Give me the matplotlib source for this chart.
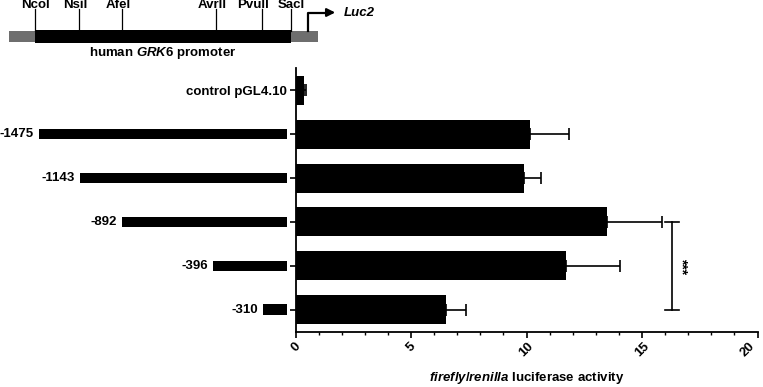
import matplotlib
matplotlib.use('Agg')
import matplotlib.pyplot as plt

# data
constructs = ['control pGL4.10', '-1475', '-1143', '-892', '-396', '-310']
activity = [0.38, 10.14, 9.88, 13.5, 11.71, 6.5]
sem = [0.07, 1.71, 0.76, 2.35, 2.33, 0.89]

# promoter schematic (arbitrary schematic units)
site_names = ['Ncol', 'Nsil', 'Afel', 'Avrll', 'Pvull', 'Sacl']
site_pos = [35, 79, 122, 216, 262, 291]
site_label_pos = [35, 75, 118, 212, 253, 291]
frag_labels = ['-1475', '-1143', '-892', '-396', '-310']
frag_start = [39, 80, 122, 213, 263]
frag_end = 287

FS = 9.5
plt.rcParams['font.family'] = ['Liberation Sans', 'DejaVu Sans']
plt.rcParams['font.weight'] = 'bold'
plt.rcParams['mathtext.fontset'] = 'custom'
plt.rcParams['mathtext.it'] = 'Liberation Sans:italic:bold'
plt.rcParams['mathtext.rm'] = 'Liberation Sans:bold'
plt.rcParams['mathtext.bf'] = 'Liberation Sans:bold'

W, H = 763, 387
fig = plt.figure(figsize=(W / 100, H / 100), dpi=100)

left, right, bottom, top = 295.5, 757.5, 331.7, 68.3
ax = fig.add_axes([left / W, 1 - bottom / H, (right - left) / W, (bottom - top) / H])

rows = list(range(len(constructs)))
ax.barh(rows, activity, height=0.66, color='black',
        xerr=[[0] * len(sem), sem], capsize=4.5,
        error_kw=dict(ecolor='black', elinewidth=1.2, capthick=1.2))
ax.set_ylim(5.5, -0.5)
ax.set_xlim(0, 20)
ax.set_xticks([0, 5, 10, 15, 20])
ax.set_xticks(range(21), minor=True)
xlabels = ax.set_xticklabels(['0', '5', '10', '15', '20'], rotation=45, ha='center', fontsize=FS, fontweight='bold')
# keep the last label inside the canvas
xlabels[-1].set_ha('right')
ax.set_yticks(rows)
ax.set_yticklabels([constructs[0]] + [''] * 5, fontsize=FS, fontweight='bold')
ax.tick_params(axis='both', which='major', length=4, width=1.2, pad=2)
ax.tick_params(axis='x', which='minor', length=2.5, width=1.0)
for s in ['top', 'right']:
    ax.spines[s].set_visible(False)
for s in ['left', 'bottom']:
    ax.spines[s].set_linewidth(1.3)
ax.set_xlabel(r'$\mathit{firefly/renilla}$ luciferase activity', fontsize=FS, fontweight='bold', labelpad=8)

# significance bracket between -892 and -310
bx = 16.3
ax.plot([bx, bx], [3, 5], color='black', lw=1.2, clip_on=False)
ax.plot([bx - 0.3, bx + 0.3], [3, 3], color='black', lw=1.2, clip_on=False)
ax.plot([bx - 0.3, bx + 0.3], [5, 5], color='black', lw=1.2, clip_on=False)
ax.text(bx + 0.42, 4, '***', rotation=270, ha='center', va='center', fontsize=10, fontweight='bold')

# fragment bars to the left, sharing rows with main axes
axf = fig.add_axes([0, 1 - bottom / H, left / W, (bottom - top) / H], sharey=ax)
axf.set_xlim(0, left)
axf.axis('off')
frag_rows = rows[1:]
axf.barh(frag_rows, [frag_end - s for s in frag_start], left=frag_start, height=0.24, color='black')
for r, s, lab in zip(frag_rows, frag_start, frag_labels):
    axf.text(s - 5, r, lab, ha='right', va='center', fontsize=FS, fontweight='bold')

# promoter diagram on top
axt = fig.add_axes([0, 1 - 62 / H, 1, 62 / H])
axt.set_xlim(0, W)
axt.set_ylim(62, 0)
axt.axis('off')
axt.barh(36.5, site_pos[0] - 9, left=9, height=10.5, color='#6e6e6e')
axt.barh(36.5, 318 - site_pos[-1], left=site_pos[-1], height=10.5, color='#6e6e6e')
axt.barh(36.5, site_pos[-1] - site_pos[0], left=site_pos[0], height=13, color='black')
for name, p, lp in zip(site_names, site_pos, site_label_pos):
    axt.plot([p, p], [9, 31], color='black', lw=0.9)
    axt.text(lp, 5.5, name, ha='center', va='center', fontsize=FS, fontweight='bold')
axt.plot([308, 308, 327], [31, 12.5, 12.5], color='black', lw=1.6)
axt.annotate('', xy=(338, 12.5), xytext=(325, 12.5),
             arrowprops=dict(arrowstyle='-|>', color='black', lw=1.6, mutation_scale=12))
axt.text(344, 13, 'Luc2', ha='left', va='center', fontsize=FS, fontweight='bold', style='italic')
axt.text((site_pos[0] + site_pos[-1]) / 2, 53, r'human $\mathit{GRK6}$ promoter',
         ha='center', va='center', fontsize=FS, fontweight='bold')

fig.savefig('out.png', dpi=100)
